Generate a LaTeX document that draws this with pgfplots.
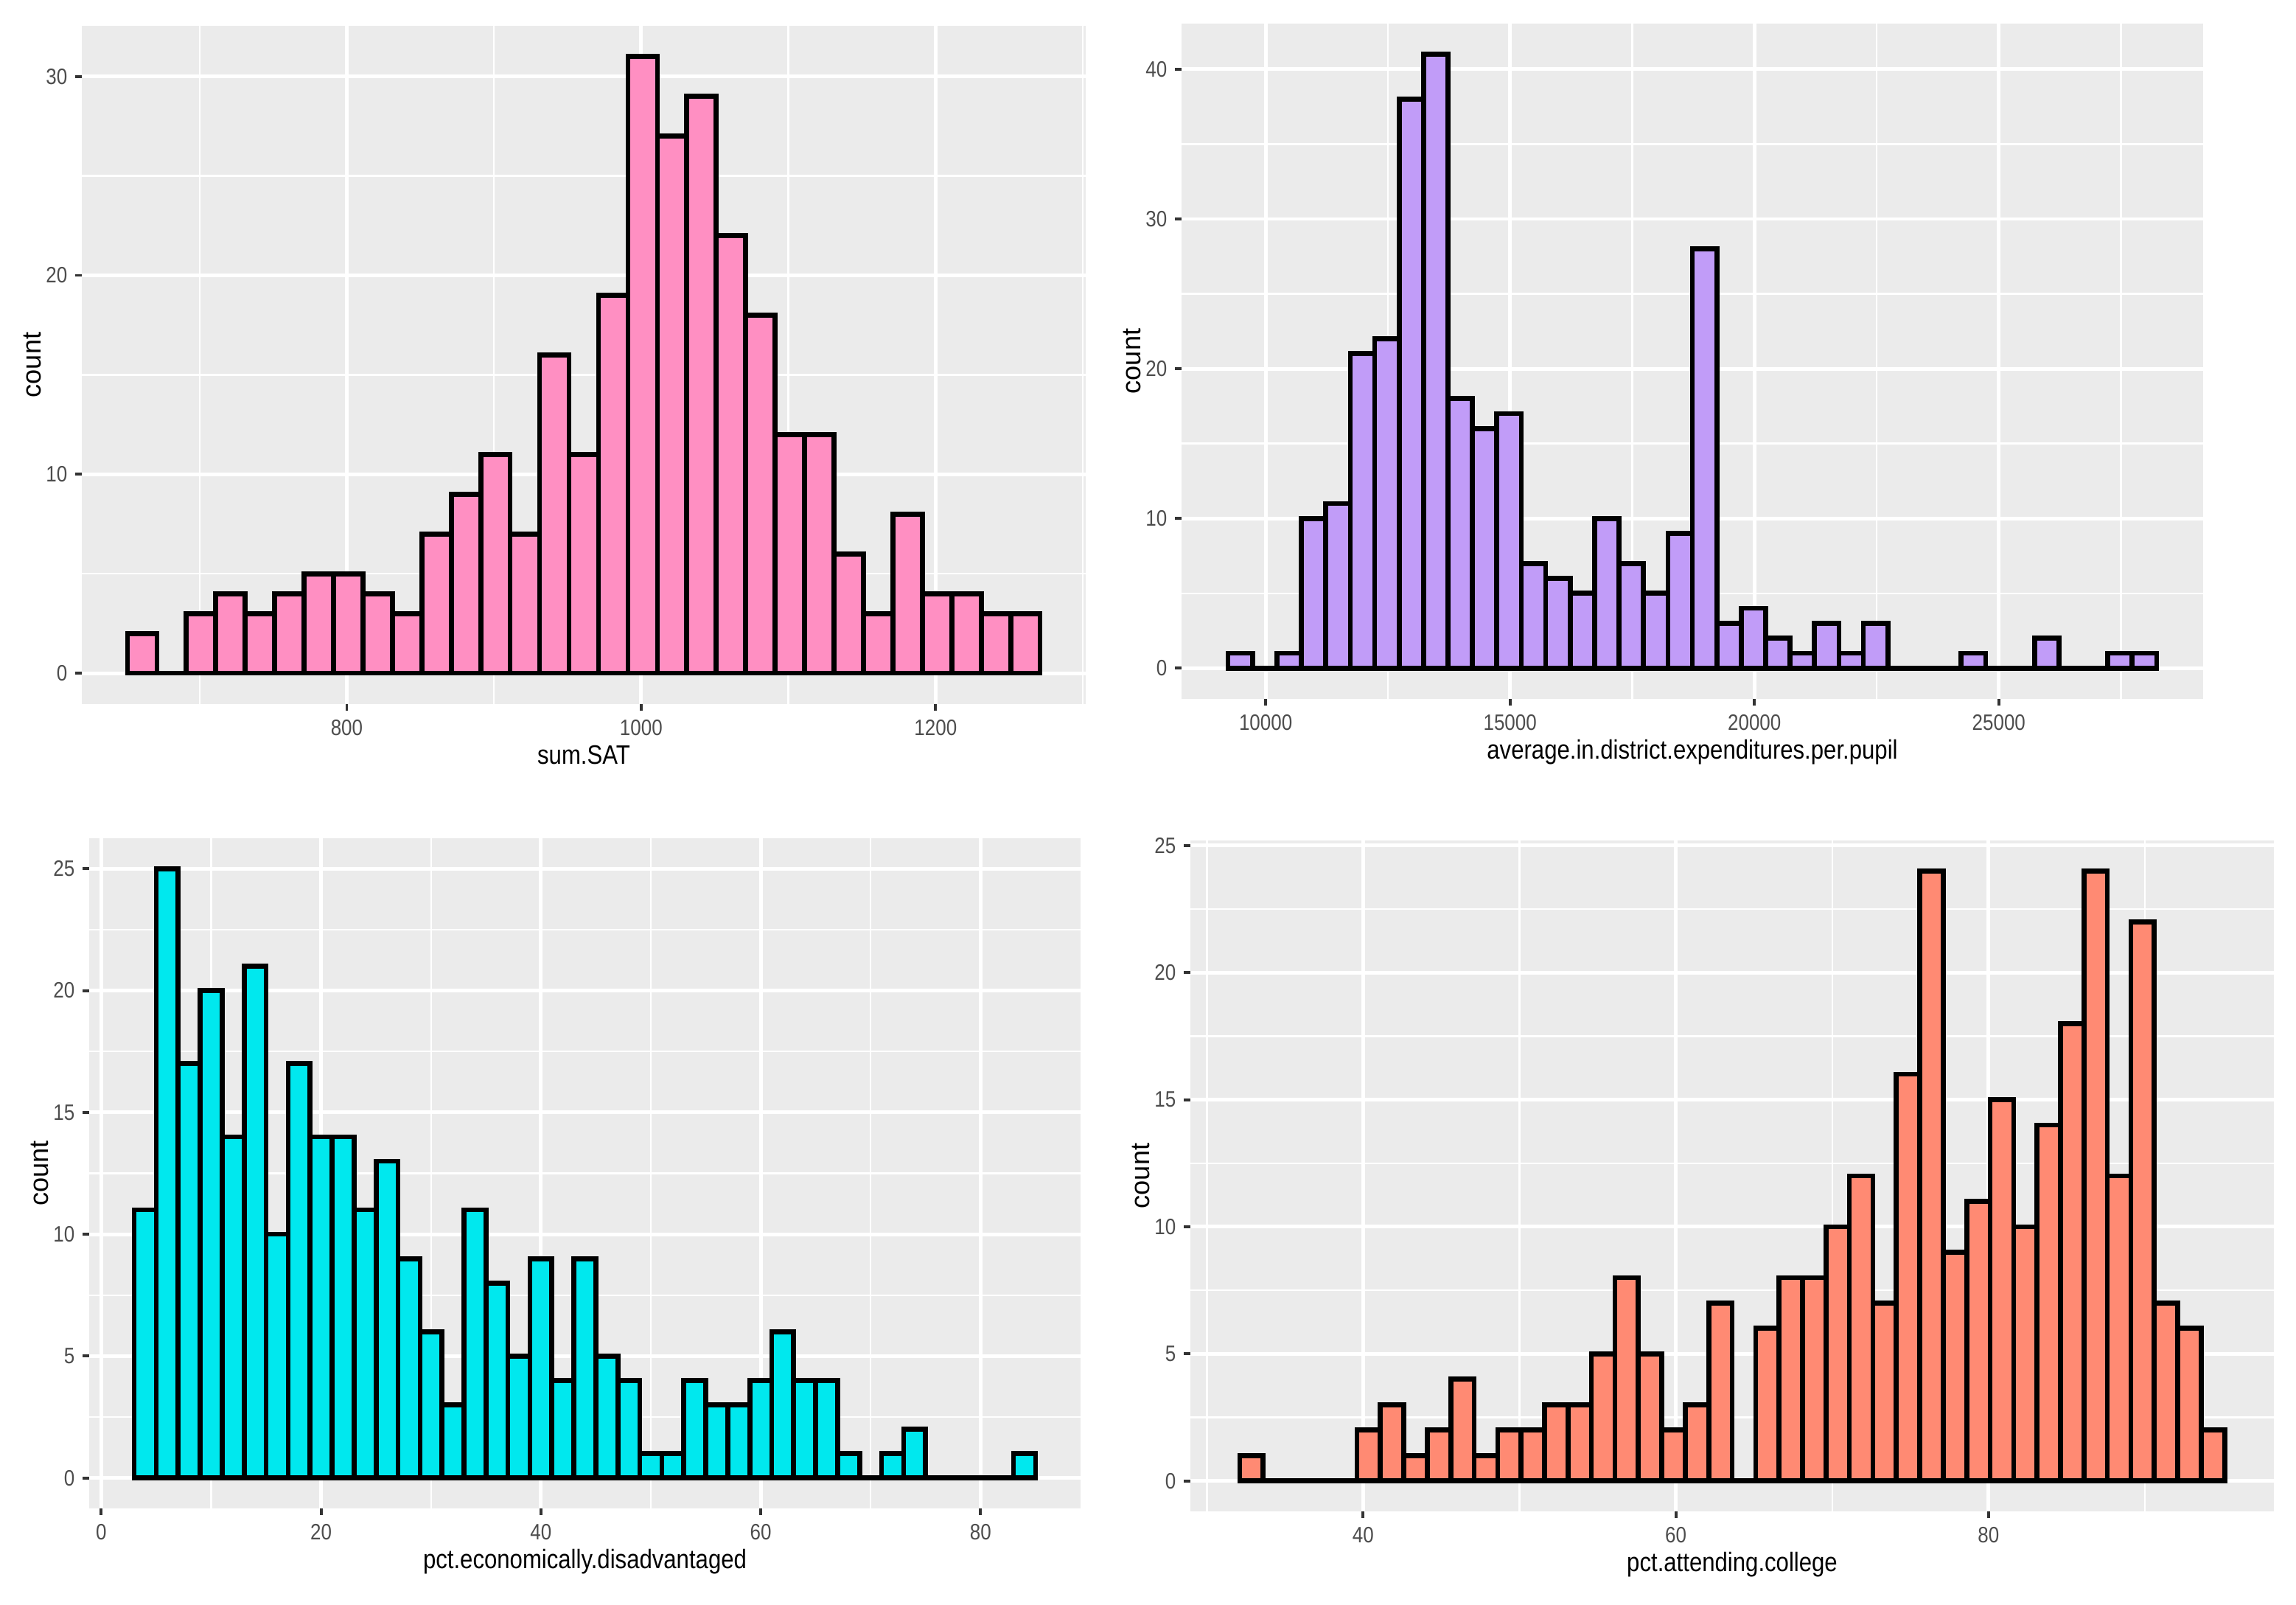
\documentclass[border=0pt]{standalone}
\usepackage{pgfplots}
\pgfplotsset{compat=1.18}
\usepackage{fontspec}
\setmainfont{Liberation Sans}

\definecolor{ggpanel}{HTML}{EBEBEB}
\definecolor{gg20}{HTML}{333333}
\definecolor{gg30}{HTML}{4D4D4D}
\definecolor{pinkbar}{HTML}{FF8FC2}
\definecolor{purplebar}{HTML}{C19CF8}
\definecolor{cyanbar}{HTML}{00E8EE}
\definecolor{salmonbar}{HTML}{FF8A73}

\pgfplotsset{
  gg/.style={
    scale only axis,
    axis background/.style={fill=ggpanel},
    axis line style={draw=none},
    tick align=outside,
    xtick pos=left, ytick pos=left,
    major tick length=0.09cm,
    minor tick length=0pt,
    scaled x ticks=false, scaled y ticks=false,
    every tick/.style={color=gg20, line width=1.1pt},
    grid=both,
    major grid style={white, line width=1.4pt},
    minor grid style={white, line width=0.7pt},
    ticklabel style={font=\fontsize{8.6}{10}\selectfont, text=gg30, xscale=0.86},
    /pgf/number format/assume math mode=true,
    every axis x label/.style={at={(axis description cs:0.5,0)}, yshift=-0.82cm,
      anchor=base, font=\fontsize{10.3}{12}\selectfont, xscale=0.86},
    every axis y label/.style={at={(axis description cs:0,0.5)}, xshift=-0.67cm,
      rotate=90, anchor=center, font=\fontsize{10.3}{12}\selectfont},
    ylabel={count},
  },
  hist/.style={ybar, bar shift=0pt, draw=black, line width=1.9pt, fill=#1},
}

\begin{document}
\begin{tikzpicture}
\useasboundingbox (0,0) rectangle (31.15cm,21.77cm);

% sum.SAT
\begin{axis}[gg, at={(1.11cm,12.22cm)}, anchor=south west,
  width=13.62cm, height=9.20cm,
  xmin=620, xmax=1302, ymin=-1.55, ymax=32.55,
  xtick={800,1000,1200}, xticklabels={800,1000,1200},
  minor xtick={700,900,1100,1300},
  ytick={0,10,20,30}, yticklabels={0,10,20,30},
  minor ytick={5,15,25},
  xlabel={sum.SAT}]
\addplot[hist=pinkbar, bar width=20] coordinates {
(661,2) (681,0) (701,3) (721,4) (741,3) (761,4) (781,5) (801,5)
(821,4) (841,3) (861,7) (881,9) (901,11) (921,7) (941,16) (961,11)
(981,19) (1001,31) (1021,27) (1041,29) (1061,22) (1081,18) (1101,12) (1121,12)
(1141,6) (1161,3) (1181,8) (1201,4) (1221,4) (1241,3) (1261,3)
};
\end{axis}

% average.in.district.expenditures.per.pupil
\begin{axis}[gg, at={(16.03cm,12.29cm)}, anchor=south west,
  width=13.86cm, height=9.16cm,
  xmin=8279, xmax=29181, ymin=-2.05, ymax=43.05,
  xtick={10000,15000,20000,25000}, xticklabels={10000,15000,20000,25000},
  minor xtick={12500,17500,22500,27500},
  ytick={0,10,20,30,40}, yticklabels={0,10,20,30,40},
  minor ytick={5,15,25,35},
  xlabel={average.in.district.expenditures.per.pupil}]
\addplot[hist=purplebar, bar width=500] coordinates {
(9480,1) (9980,0) (10480,1) (10980,10) (11480,11) (11980,21) (12480,22) (12980,38)
(13480,41) (13980,18) (14480,16) (14980,17) (15480,7) (15980,6) (16480,5) (16980,10)
(17480,7) (17980,5) (18480,9) (18980,28) (19480,3) (19980,4) (20480,2) (20980,1)
(21480,3) (21980,1) (22480,3) (22980,0) (23480,0) (23980,0) (24480,1) (24980,0)
(25480,0) (25980,2) (26480,0) (26980,0) (27480,1) (27980,1)
};
\end{axis}

% pct.economically.disadvantaged
\begin{axis}[gg, at={(1.21cm,1.31cm)}, anchor=south west,
  width=13.45cm, height=9.09cm,
  xmin=-1.1, xmax=89.1, ymin=-1.25, ymax=26.25,
  xtick={0,20,40,60,80}, xticklabels={0,20,40,60,80},
  minor xtick={10,30,50,70},
  ytick={0,5,10,15,20,25}, yticklabels={0,5,10,15,20,25},
  minor ytick={2.5,7.5,12.5,17.5,22.5},
  xlabel={pct.economically.disadvantaged}]
\addplot[hist=cyanbar, bar width=2] coordinates {
(4,11) (6,25) (8,17) (10,20) (12,14) (14,21) (16,10) (18,17)
(20,14) (22,14) (24,11) (26,13) (28,9) (30,6) (32,3) (34,11)
(36,8) (38,5) (40,9) (42,4) (44,9) (46,5) (48,4) (50,1)
(52,1) (54,4) (56,3) (58,3) (60,4) (62,6) (64,4) (66,4)
(68,1) (70,0) (72,1) (74,2) (76,0) (78,0) (80,0) (82,0) (84,1)
};
\end{axis}

% pct.attending.college
\begin{axis}[gg, at={(16.15cm,1.27cm)}, anchor=south west,
  width=14.70cm, height=9.10cm,
  xmin=28.95, xmax=98.25, ymin=-1.2, ymax=25.2,
  xtick={40,60,80}, xticklabels={40,60,80},
  minor xtick={30,50,70,90},
  ytick={0,5,10,15,20,25}, yticklabels={0,5,10,15,20,25},
  minor ytick={2.5,7.5,12.5,17.5,22.5},
  xlabel={pct.attending.college}]
\addplot[hist=salmonbar, bar width=1.5] coordinates {
(32.85,1) (34.35,0) (35.85,0) (37.35,0) (38.85,0) (40.35,2) (41.85,3) (43.35,1)
(44.85,2) (46.35,4) (47.85,1) (49.35,2) (50.85,2) (52.35,3) (53.85,3) (55.35,5)
(56.85,8) (58.35,5) (59.85,2) (61.35,3) (62.85,7) (64.35,0) (65.85,6) (67.35,8)
(68.85,8) (70.35,10) (71.85,12) (73.35,7) (74.85,16) (76.35,24) (77.85,9) (79.35,11)
(80.85,15) (82.35,10) (83.85,14) (85.35,18) (86.85,24) (88.35,12) (89.85,22) (91.35,7)
(92.85,6) (94.35,2)
};
\end{axis}
\end{tikzpicture}
\end{document}
